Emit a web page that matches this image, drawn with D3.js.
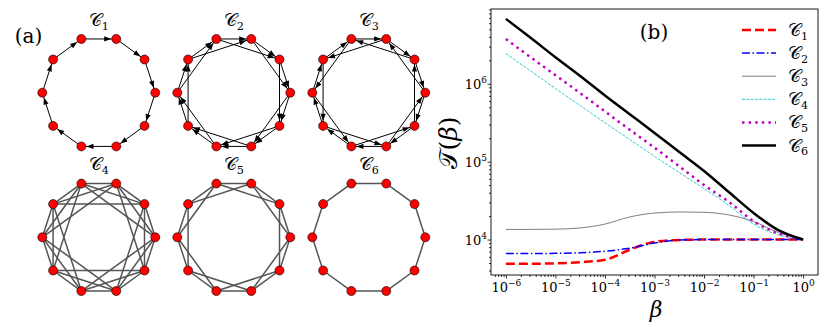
<!DOCTYPE html>
<html>
<head>
<meta charset="UTF-8">
<title>circulant graphs and T(beta)</title>
<style>
  body { margin: 0; background: #fff; }
  svg, svg text, svg tspan { font-family: "DejaVu Serif", serif; }
</style>
</head>
<body>
<div class="svg-zone"></div>
<script src="https://cdn.jsdelivr.net/npm/d3@7"></script>
<script>
// panel (a): ten-node circulant graphs
const nNodes = 10;
const graphNames = ["1", "2", "3", "4", "5", "6"];
const graphOffsets = [[1], [1, 2], [1, -2], [1, 2, 3], [1, 2], [1]];
const graphDirected = [true, true, true, false, false, false];

// panel (b): T(beta) curves
const betaVals = [1e-6, 3.16e-6, 1e-5, 3.16e-5, 1e-4, 3.16e-4, 1e-3, 3.16e-3, 1e-2, 3.16e-2, 1e-1, 3.16e-1, 1];
const seriesC1 = [4.90e3, 4.90e3, 4.95e3, 5.13e3, 5.50e3, 7.41e3, 9.33e3, 9.89e3, 1.0e4, 1.0e4, 1.0e4, 1.0e4, 1.0e4];
const seriesC2 = [6.61e3, 6.61e3, 6.65e3, 6.76e3, 7.08e3, 7.76e3, 9.02e3, 9.89e3, 1.0e4, 1.0e4, 1.0e4, 1.0e4, 1.0e4];
const seriesC3 = [1.35e4, 1.35e4, 1.36e4, 1.41e4, 1.58e4, 1.95e4, 2.19e4, 2.26e4, 2.24e4, 2.07e4, 1.70e4, 1.23e4, 1.0e4];
const seriesC4 = [2.45e6, 1.46e6, 8.71e5, 5.25e5, 3.16e5, 1.93e5, 1.17e5, 7.24e4, 4.52e4, 2.75e4, 1.58e4, 1.15e4, 1.0e4];
const seriesC5 = [3.75e6, 2.19e6, 1.29e6, 7.59e5, 4.42e5, 2.57e5, 1.51e5, 8.71e4, 5.01e4, 3.05e4, 1.72e4, 1.20e4, 1.0e4];
const seriesC6 = [6.81e6, 3.89e6, 2.19e6, 1.26e6, 7.08e5, 4.07e5, 2.34e5, 1.33e5, 7.59e4, 4.07e4, 2.19e4, 1.32e4, 1.0e4];
const xTickExp = [-6, -5, -4, -3, -2, -1, 0];
const yTickExp = [4, 5, 6];

const series = [
  { sub: "1", vals: seriesC1, color: "#ff0000", w: 2.5, dash: "9,4" },
  { sub: "2", vals: seriesC2, color: "#0000ff", w: 1.5, dash: "8,2.5,1.5,2.5" },
  { sub: "3", vals: seriesC3, color: "#808080", w: 1, dash: null },
  { sub: "4", vals: seriesC4, color: "#00bfbf", w: 0.8, dash: "3,1.3" },
  { sub: "5", vals: seriesC5, color: "#bf00bf", w: 2.5, dash: "2.5,4.1" },
  { sub: "6", vals: seriesC6, color: "#000000", w: 2.5, dash: null }
];

const svg = d3.select(".svg-zone").append("svg")
  .attr("width", 830).attr("height", 327)
  .attr("font-family", "DejaVu Serif");

// script letter with upright subscript
function mathLabel(sel, letter, sub, size) {
  sel.append("tspan").attr("font-size", size).text(letter);
  if (sub) sel.append("tspan").attr("font-size", size * 0.62).attr("dy", size * 0.22).text(sub);
}

// ---------------- panel (a)
svg.append("text").attr("x", 28.5).attr("y", 43).attr("text-anchor", "middle")
  .attr("font-size", 20).text("(a)");

const colX = d3.scalePoint().domain([0, 1, 2]).range([98.8, 368.8]);
const rowY = d3.scalePoint().domain([0, 1]).range([92.7, 237.3]);
const ang = d3.scaleLinear().domain([0, nNodes]).range([108, 108 - 360]);
const R = 56.5, nodeR = 4.5, aLen = 7, aW = 2.6;

graphNames.forEach((name, gi) => {
  const cx = colX(gi % 3), cy = rowY(Math.floor(gi / 3));
  const nodes = d3.range(nNodes).map(k => {
    const a = ang(k) * Math.PI / 180;
    return { x: cx + R * Math.cos(a), y: cy - R * Math.sin(a) };
  });
  const edges = [];
  graphOffsets[gi].forEach(o => {
    d3.range(nNodes).forEach(i => edges.push([i, (i + o + nNodes) % nNodes]));
  });
  const dir = graphDirected[gi];
  const g = svg.append("g");

  g.selectAll("line").data(edges).join("line")
    .attr("x1", e => nodes[e[0]].x).attr("y1", e => nodes[e[0]].y)
    .attr("x2", e => nodes[e[1]].x).attr("y2", e => nodes[e[1]].y)
    .attr("stroke", dir ? "#000" : "#555")
    .attr("stroke-width", dir ? 1 : 1.5);

  if (dir) {
    g.selectAll("path.arrow").data(edges).join("path")
      .attr("class", "arrow")
      .attr("fill", "#000")
      .attr("d", e => {
        const s = nodes[e[0]], t = nodes[e[1]];
        const dx = t.x - s.x, dy = t.y - s.y, L = Math.hypot(dx, dy);
        const ux = dx / L, uy = dy / L;
        const tx = t.x - ux * (nodeR + 0.6), ty = t.y - uy * (nodeR + 0.6);
        const bx = tx - ux * aLen, by = ty - uy * aLen;
        return `M${tx},${ty}L${bx - uy * aW},${by + ux * aW}L${bx + uy * aW},${by - ux * aW}Z`;
      });
  }

  g.selectAll("circle").data(nodes).join("circle")
    .attr("cx", d => d.x).attr("cy", d => d.y).attr("r", nodeR)
    .attr("fill", "#ff0000").attr("stroke", "#000").attr("stroke-width", 0.6);

  svg.append("text").attr("x", cx).attr("y", cy - 67).attr("text-anchor", "middle")
    .call(mathLabel, "\u{1D49E}", name, 18);
});

// ---------------- panel (b)
const x = d3.scaleLog().domain([10 ** -6.3, 10 ** 0.3]).range([491, 818]);
const y = d3.scaleLog().domain([10 ** 3.545, 10 ** 6.96]).range([275, 9]);

const minorX = [], minorY = [];
for (let e = -7; e <= 0; e++) for (let m = 2; m <= 9; m++) {
  const v = m * 10 ** e;
  if (v > x.domain()[0] && v < x.domain()[1]) minorX.push(v);
}
for (let e = 3; e <= 6; e++) for (let m = 2; m <= 9; m++) {
  const v = m * 10 ** e;
  if (v > y.domain()[0] && v < y.domain()[1]) minorY.push(v);
}

function styleAxis(g) {
  g.select(".domain").remove();
  g.selectAll(".tick line").attr("stroke", "#000").attr("stroke-width", 0.8);
}

svg.append("g").attr("transform", "translate(0,275)")
  .call(d3.axisBottom(x).tickValues(minorX).tickSize(2).tickFormat(""))
  .call(styleAxis);
svg.append("g").attr("transform", "translate(491,0)")
  .call(d3.axisLeft(y).tickValues(minorY).tickSize(2).tickFormat(""))
  .call(styleAxis);

svg.append("g").attr("transform", "translate(0,275)")
  .call(d3.axisBottom(x).tickValues(xTickExp.map(e => 10 ** e)).tickSize(3.5).tickFormat(""))
  .call(styleAxis);
svg.append("g").attr("transform", "translate(491,0)")
  .call(d3.axisLeft(y).tickValues(yTickExp.map(e => 10 ** e)).tickSize(3.5).tickFormat(""))
  .call(styleAxis);

function powLabel(t, e) {
  t.append("tspan").attr("font-size", 13).text("10");
  t.append("tspan").attr("font-size", 9).attr("dy", -6).text(e < 0 ? "\u2212" + (-e) : String(e));
}
xTickExp.forEach(e => {
  svg.append("text").attr("x", x(10 ** e) + 0.5).attr("y", 292)
    .attr("text-anchor", "middle").call(powLabel, e);
});
yTickExp.forEach(e => {
  svg.append("text").attr("x", 487).attr("y", y(10 ** e) + 5)
    .attr("text-anchor", "end").call(powLabel, e);
});

svg.append("clipPath").attr("id", "plot-clip")
  .append("rect").attr("x", 491).attr("y", 9).attr("width", 327).attr("height", 266);

const line = d3.line()
  .x((d, i) => x(betaVals[i]))
  .y(d => y(d))
  .curve(d3.curveMonotoneX);

const plot = svg.append("g").attr("clip-path", "url(#plot-clip)");
series.forEach(s => {
  plot.append("path").datum(s.vals)
    .attr("d", line)
    .attr("fill", "none")
    .attr("stroke", s.color)
    .attr("stroke-width", s.w)
    .attr("stroke-dasharray", s.dash);
});

svg.append("rect").attr("x", 491).attr("y", 9).attr("width", 327).attr("height", 266)
  .attr("fill", "none").attr("stroke", "#000").attr("stroke-width", 0.9);

// legend
series.forEach((s, i) => {
  const ly = 30 + i * 23.1;
  svg.append("line").attr("x1", 742).attr("x2", 776).attr("y1", ly).attr("y2", ly)
    .attr("stroke", s.color).attr("stroke-width", s.w).attr("stroke-dasharray", s.dash);
  svg.append("text").attr("x", 788).attr("y", ly + 6).call(mathLabel, "\u{1D49E}", s.sub, 18);
});

svg.append("text").attr("x", 654).attr("y", 39).attr("text-anchor", "middle")
  .attr("font-size", 20).text("(b)");

svg.append("text").attr("x", 656).attr("y", 317).attr("text-anchor", "middle")
  .attr("font-size", 22).attr("font-style", "italic").text("\u03B2");

const yl = svg.append("text").attr("transform", "translate(457,143) rotate(-90)")
  .attr("text-anchor", "middle").attr("font-size", 25);
yl.append("tspan").text("\u{1D4AF}");
yl.append("tspan").text("(");
yl.append("tspan").attr("font-style", "italic").text("\u03B2");
yl.append("tspan").text(")");
</script>
</body>
</html>
